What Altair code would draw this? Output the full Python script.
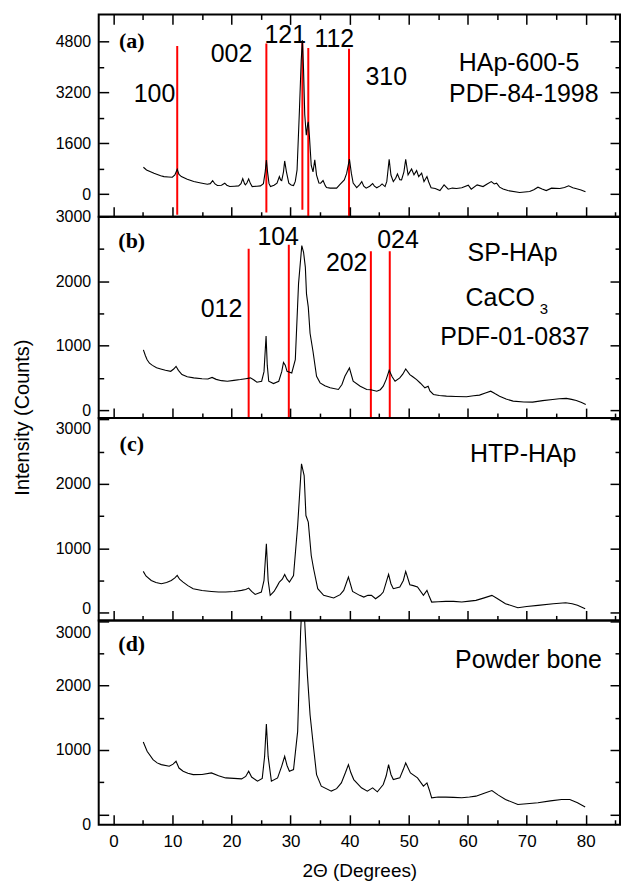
import altair as alt
import pandas as pd

FONT = "Liberation Sans"
SERIF = "Liberation Serif"

# ---------------- data ----------------
# (a) HAp-600-5
a_x = [5.07, 5.6, 6.86, 8.0, 8.55, 9.3, 9.97, 10.4, 10.8, 11.1, 11.5, 12.5, 13.6, 14.8, 15.9, 16.4, 16.8, 17.2,
       17.6, 18.3, 18.85, 19.2, 19.7, 20.5, 21.2, 21.6, 21.9, 22.2, 22.35, 22.6, 22.9, 23.2, 23.5, 24.3, 24.9,
       25.4, 25.7, 25.9, 26.1, 26.35, 26.6, 27.2, 27.7, 28.1, 28.3, 28.5, 28.8, 29.0, 29.3, 29.7, 30.1, 30.5,
       30.8, 31.1, 31.5, 31.8, 32.0, 32.2, 32.4, 32.66, 32.9, 33.0, 33.2, 33.5, 33.8, 34.1, 34.4, 34.8, 35.1,
       35.5, 35.9, 36.1, 36.7, 37.8, 38.3, 39.1, 39.5, 39.97, 40.3, 40.6, 41.2, 41.7, 42.06, 42.4, 42.8, 43.4,
       43.9, 44.2, 44.6, 45.15, 45.5, 46.0, 46.3, 46.7, 47.0, 47.4, 47.8, 48.1, 48.5, 48.8, 49.2, 49.5, 49.9,
       50.2, 50.5, 50.9, 51.35, 51.7, 52.2, 52.6, 53.1, 53.4, 53.8, 54.5, 55.3, 56.0, 56.7, 57.4, 58.1, 59.0,
       60.1, 60.6, 61.6, 62.6, 63.3, 64.0, 64.5, 64.9, 65.4, 66.0, 66.8, 68.8, 70.5, 71.2, 71.9, 72.6, 73.3,
       74.2, 75.6, 76.4, 77.1, 77.8, 78.3, 79.2, 79.95]
a_y = [845, 760, 657, 580, 551, 540, 532, 600, 782, 620, 551, 470, 394, 350, 313, 330, 426, 320,
       270, 280, 344, 280, 238, 250, 260, 330, 488, 330, 291, 350, 479, 330, 238, 250, 260,
       330, 700, 1073, 700, 330, 238, 280, 344, 551, 450, 426, 700, 1042, 700, 344, 290, 270,
       400, 760, 2635, 4200, 4830, 3900, 2500, 1850, 2200, 2270, 1800, 900, 700, 1075, 600, 350, 344,
       426, 260, 207, 188, 188, 291, 448, 650, 1100, 650, 350, 207, 300, 394, 250, 188, 250,
       333, 250, 200, 260, 322, 238, 400, 1095, 600, 394, 500, 635, 450, 448, 700, 1095, 604,
       700, 790, 604, 739, 551, 657, 394, 551, 380, 200, 180, 113, 291, 156, 190, 175, 200,
       282, 156, 291, 238, 320, 394, 320, 344, 219, 160, 113, 50, 81, 140, 219, 160, 113,
       188, 175, 210, 260, 200, 175, 130, 72]

# (b) SP-HAp
b_x = [5.07, 5.4, 5.7, 6.1, 6.6, 7.3, 8.0, 8.8, 9.7, 10.2, 10.6, 11.0, 11.6, 12.5, 13.6, 15.0, 16.0, 16.7,
       17.4, 18.3, 19.3, 20.4, 21.5, 22.4, 23.2, 23.8, 24.3, 25.1, 25.5, 25.85, 26.05, 26.3, 27.1, 28.0,
       28.5, 28.8, 29.1, 29.4, 30.2, 30.8, 31.35, 31.9, 32.2, 32.5, 32.7, 33.0, 33.3, 33.8, 34.4, 35.0,
       35.8, 36.7, 38.1, 38.7, 39.2, 39.97, 40.6, 41.8, 42.9, 43.6, 44.6, 45.2, 45.7, 46.2, 46.7, 47.2,
       47.7, 48.5, 49.0, 49.5, 50.2, 50.7, 51.35, 52.0, 52.75, 53.3, 53.6, 54.2, 55.2, 56.4, 58.0, 59.8,
       61.0, 62.0, 63.0, 63.9, 64.6, 65.4, 66.5, 67.7, 69.5, 71.0, 72.7, 74.4, 75.5, 76.7, 77.6, 78.4,
       79.3, 80.0]
b_y = [938, 850, 784, 730, 697, 660, 641, 620, 605, 640, 682, 620, 554, 520, 503, 490, 485, 510,
       480, 460, 451, 465, 477, 490, 503, 470, 436, 451, 600, 1153, 700, 451, 415, 451,
       600, 743, 700, 605, 579, 784, 1964, 2553, 2450, 2220, 1800, 1600, 1195, 912, 528, 426,
       380, 349, 323, 400, 528, 656, 451, 374, 323, 320, 297, 320, 374, 480, 620, 520,
       451, 503, 560, 641, 554, 520, 477, 420, 349, 374, 300, 246, 230, 220, 215, 210,
       225, 236, 270, 297, 260, 220, 175, 143, 130, 128, 150, 169, 180, 185, 170, 154,
       120, 92]

# (c) HTP-HAp
c_x = [5.05, 5.5, 6.4, 7.2, 8.1, 9.0, 9.8, 10.4, 10.8, 11.2, 11.8, 12.6, 13.5, 15.0, 16.6, 17.8, 19.0, 20.4,
       21.7, 22.4, 22.9, 23.4, 24.0, 25.05, 25.5, 25.9, 26.2, 26.55, 27.2, 27.8, 28.1, 28.6, 29.0, 29.4,
       29.8, 30.5, 31.2, 31.85, 32.3, 32.6, 33.0, 33.5, 33.9, 34.6, 35.6, 37.3, 38.4, 39.0, 39.8, 40.5,
       41.7, 42.4, 43.1, 43.7, 44.4, 45.2, 45.7, 46.6, 47.0, 47.4, 48.5, 49.1, 49.5, 50.2, 50.8, 51.5,
       52.5, 53.1, 53.5, 53.9, 55.0, 56.3, 57.6, 59.0, 60.3, 61.4, 62.8, 64.1, 65.0, 66.4, 68.5, 70.0,
       71.9, 74.5, 76.6, 77.7, 78.6, 79.9]
c_y = [641, 570, 501, 470, 450, 470, 501, 540, 578, 520, 475, 420, 372, 345, 330, 320, 320, 330,
       346, 360, 382, 330, 284, 320, 500, 1070, 500, 269, 330, 424, 475, 520, 594, 520,
       475, 578, 1353, 2310, 2128, 1508, 1405, 888, 682, 372, 269, 228, 280, 346, 553, 330,
       269, 243, 270, 269, 217, 270, 320, 594, 450, 372, 398, 500, 641, 434, 420, 398,
       269, 346, 250, 165, 170, 176, 175, 165, 180, 191, 230, 269, 220, 140, 78, 95,
       114, 140, 155, 140, 114, 62]

# (d) Powder bone
d_x = [5.05, 5.7, 6.7, 7.4, 8.1, 9.45, 10.1, 10.6, 11.1, 11.8, 12.6, 13.5, 15.0, 16.6, 17.8, 19.0, 20.4,
       21.7, 22.4, 22.9, 23.4, 24.4, 25.2, 25.6, 25.9, 26.2, 26.75, 27.8, 28.5, 29.0, 29.4, 29.8, 30.5,
       31.2, 31.7, 31.95, 32.25, 32.85, 33.3, 33.9, 34.4, 35.2, 36.9, 37.8, 38.6, 39.3, 39.8, 40.2,
       40.7, 42.0, 43.0, 43.9, 44.7, 45.7, 46.2, 46.6, 47.0, 47.4, 48.5, 49.1, 49.5, 50.3, 51.5, 52.5,
       53.1, 53.5, 53.9, 55.0, 56.3, 57.6, 59.0, 60.3, 61.4, 62.8, 64.1, 65.2, 66.4, 68.5, 70.0, 71.9,
       74.0, 75.9, 77.3, 78.6, 79.9]
d_y = [1124, 980, 850, 800, 773, 748, 780, 825, 720, 670, 640, 618, 620, 645, 600, 567, 560,
       552, 590, 670, 580, 516, 560, 900, 1402, 900, 516, 567, 750, 902, 760, 670, 696,
       1289, 2835, 3300, 3250, 2165, 1546, 1031, 618, 439, 362, 400, 490, 650, 773, 650,
       541, 413, 362, 413, 351, 464, 600, 773, 620, 541, 567, 700, 799, 645, 567, 439,
       490, 380, 258, 270, 269, 265, 258, 270, 284, 330, 371, 300, 232, 155, 165, 181,
       210, 232, 232, 180, 114]

# reference (PDF) lines
a_ref_x = [10.8, 25.9, 32.0, 33.0, 39.9]
a_ref_top = [4653, 4728, 4800, 4590, 4570]
a_ref_bottom = [-650, -576, -490, -710, -710]
b_ref_x = [22.9, 29.7, 43.6, 46.8]
b_ref_top = [2503, 2565, 2466, 2466]
b_ref_bottom = [-120, -120, -120, -120]

# Miller index labels
a_hkl = ["100", "002", "121", "112", "310"]
a_hkl_x = [6.95, 20.0, 29.1, 37.4, 46.2]
a_hkl_y = [3136, 4400, 4995, 4883, 3671]
b_hkl = ["012", "104", "202", "024"]
b_hkl_x = [18.3, 27.9, 39.5, 48.2]
b_hkl_y = [1569, 2680, 2284, 2645]

# sample labels
a_names = ["HAp-600-5", "PDF-84-1998"]
a_names_x = [68.7, 69.5]
a_names_y = [4110, 3139]
b_names = ["SP-HAp", "CaCO", "PDF-01-0837"]
b_names_x = [67.6, 65.5, 68.0]
b_names_y = [2445, 1738, 1130]
b_sub = ["3"]
b_sub_x = [72.2]
b_sub_y = [1569]
c_names = ["HTP-HAp"]
c_names_x = [69.4]
c_names_y = [2465]
d_names = ["Powder bone"]
d_names_x = [70.3]
d_names_y = [2396]

letters = ["(a)", "(b)", "(c)", "(d)"]
letter_x = [3.1, 3.1, 3.1, 3.1]
letter_y = [4800, 2630, 2620, 2639]

x_ticks = list(range(0, 90, 5))
a_ticks = [0, 800, 1600, 2400, 3200, 4000, 4800]
bcd_ticks = [0, 500, 1000, 1500, 2000, 2500, 3000]

X_DOMAIN = [-2.5, 85.8]
PANEL_W = 523


def cond(test, a, b):
    return {"condition": {"test": test, "value": a}, "value": b}


def bottom_axis(show_labels):
    kw = dict(orient="bottom", values=x_ticks, domain=False, grid=False, tickColor="black",
              tickWidth=1.5, tickSize=cond("datum.value % 10 == 0", -10, -5), labelOverlap=False,
              zindex=1, minExtent=0)
    if show_labels:
        kw.update(labels=True, labelExpr="datum.value % 10 == 0 ? datum.label : ''",
                  labelPadding=19, labelFont=FONT, labelFontSize=17, labelColor="black",
                  title="2\u0398 (Degrees)", titleFont=FONT, titleFontSize=19,
                  titleFontWeight="normal", titleColor="black", titleY=46, titleBaseline="middle")
    else:
        kw.update(labels=False, title=None, maxExtent=0)
    return alt.Axis(**kw)


def top_axis():
    return alt.Axis(orient="top", values=x_ticks, domain=False, grid=False, tickColor="black",
                    tickWidth=1.5, tickSize=cond("datum.value % 10 == 0", -10, -5), labels=False,
                    title=None, zindex=1, minExtent=0, maxExtent=0)


def left_axis(values, major, title=False, offsets=None):
    kw = dict(orient="left", values=values, format="d",
              labelExpr=f"datum.value % {major} == 0 ? datum.label : ''",
              domain=False, grid=False, tickColor="black", tickWidth=1.5,
              tickSize=cond(f"datum.value % {major} == 0", -10, -5),
              labelPadding=18, labelFont=FONT, labelFontSize=16, labelColor="black",
              labelOverlap=False, zindex=1, minExtent=0)
    if offsets is not None:
        kw["labelOffset"] = offsets
    if title:
        kw.update(title="Intensity (Counts)", titleFont=FONT, titleFontSize=20,
                  titleFontWeight="normal", titleColor="black", titleX=-76, titleY=201,
                  titleAngle=270, titleAlign="center", titleBaseline="middle")
    else:
        kw.update(title=None)
    return alt.Axis(**kw)


def right_axis(values, major):
    return alt.Axis(orient="right", values=values, domain=False, grid=False, tickColor="black",
                    tickWidth=1.5, tickSize=cond(f"datum.value % {major} == 0", -10, -5),
                    labels=False, title=None, zindex=1, minExtent=0, maxExtent=0)


def text_layer(texts, xs, ys, xsc, ysc, font, size, weight="normal", align="center"):
    df = pd.DataFrame({"t": texts, "x": xs, "y": ys})
    return alt.Chart(df).mark_text(font=font, fontSize=size, fontWeight=weight, color="black",
                                   align=align, baseline="middle").encode(
        x=alt.X("x:Q", scale=xsc, axis=None),
        y=alt.Y("y:Q", scale=ysc, axis=None),
        text="t:N")


def panel(xs, ys, ydomain, yvalues, major, height, idx, bottom_labels=False, top=False,
          title=False, offsets=None, refs=None, texts=()):
    xsc = alt.Scale(domain=X_DOMAIN, nice=False, zero=False)
    ysc = alt.Scale(domain=ydomain, nice=False, zero=False)
    df = pd.DataFrame({"two_theta": xs, "intensity": ys})
    line = alt.Chart(df).mark_line(color="black", strokeWidth=1.1, clip=True).encode(
        x=alt.X("two_theta:Q", scale=xsc, axis=bottom_axis(bottom_labels)),
        y=alt.Y("intensity:Q", scale=ysc, axis=left_axis(yvalues, major, title, offsets)),
    )
    ghost = alt.Chart(df).mark_line(strokeOpacity=0, clip=True).encode(
        x=alt.X("two_theta:Q", scale=xsc, axis=top_axis() if top else None),
        y=alt.Y("intensity:Q", scale=ysc, axis=right_axis(yvalues, major)),
    )
    layers = [ghost]
    if refs is not None:
        rx, rt, rb = refs
        rdf = pd.DataFrame({"x": rx, "top": rt, "bottom": rb})
        layers.append(alt.Chart(rdf).mark_rule(color="#ff0000", strokeWidth=2, clip=True).encode(
            x=alt.X("x:Q", scale=xsc, axis=None),
            y=alt.Y("top:Q", scale=ysc, axis=None),
            y2="bottom:Q"))
    layers.append(line)
    for (t, tx, ty, font, size, weight, align) in texts:
        layers.append(text_layer(t, tx, ty, xsc, ysc, font, size, weight, align))
    layers.append(text_layer([letters[idx]], [letter_x[idx]], [letter_y[idx]], xsc, ysc,
                             SERIF, 22, "bold"))
    return alt.layer(*layers).resolve_axis(x="independent", y="independent").properties(
        width=PANEL_W, height=height)


pa = panel(a_x, a_y, [-710, 5645], a_ticks, 1600, 203, 0, top=True,
           refs=(a_ref_x, a_ref_top, a_ref_bottom),
           texts=[(a_hkl, a_hkl_x, a_hkl_y, FONT, 25, "normal", "center"),
                  (a_names, a_names_x, a_names_y, FONT, 25, "normal", "center")])
pb = panel(b_x, b_y, [-120, 3000], bcd_ticks, 1000, 202, 1, title=True,
           refs=(b_ref_x, b_ref_top, b_ref_bottom),
           texts=[(b_hkl, b_hkl_x, b_hkl_y, FONT, 25, "normal", "center"),
                  (b_names, b_names_x, b_names_y, FONT, 25, "normal", "center"),
                  (b_sub, b_sub_x, b_sub_y, FONT, 15, "normal", "left")])
pc = panel(c_x, c_y, [-120, 3020], bcd_ticks, 1000, 203, 2,
           offsets={"condition": [{"test": "datum.value == 3000", "value": 9},
                                  {"test": "datum.value == 0", "value": -4}], "value": 0},
           texts=[(c_names, c_names_x, c_names_y, FONT, 25, "normal", "center")])
pd_ = panel(d_x, d_y, [-160, 3010], bcd_ticks, 1000, 205, 3, bottom_labels=True,
            offsets={"condition": [{"test": "datum.value == 3000", "value": 11},
                                   {"test": "datum.value == 0", "value": 10}], "value": 0},
            texts=[(d_names, d_names_x, d_names_y, FONT, 25, "normal", "center")])

chart = alt.vconcat(pa, pb, pc, pd_, spacing=0, bounds="flush").properties(
    padding={"left": 4, "top": 3, "right": 0, "bottom": 0},
    background="white",
).configure_view(stroke="black", strokeWidth=2)

chart.save("out.html", embed_options={"renderer": "svg", "actions": False})
